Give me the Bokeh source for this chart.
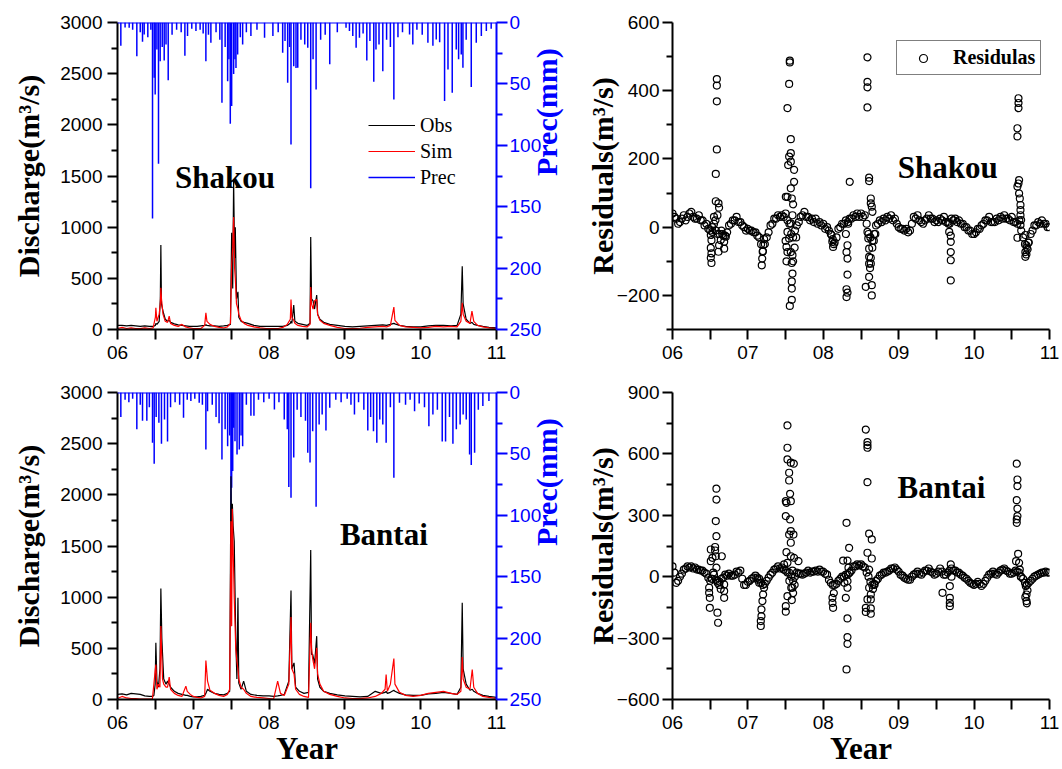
import math
from bokeh.plotting import figure
from bokeh.layouts import row, column
from bokeh.models import (Range1d, LinearAxis, FixedTicker, Legend, LegendItem,
                          Label, Span)
from bokeh.embed import file_html
from bokeh.resources import INLINE

# ---------------------------------------------------------------- data
YEAR_TICKS = [0, 1, 2, 3, 4, 5]
YEAR_LABELS = ["06", "07", "08", "09", "10", "11"]

# Shakou discharge: (years since 2006-01-01, observed, simulated) m3/s
SHAKOU_Q = [
    (0.00, 40, 10), (0.06, 40, 20), (0.12, 35, 10), (0.18, 40, 15), (0.24, 35, 10),
    (0.30, 30, 8), (0.36, 35, 15), (0.42, 30, 10), (0.47, 30, 15), (0.50, 40, 120),
    (0.506, 60, 212), (0.52, 50, 80), (0.55, 80, 150), (0.565, 300, 250), (0.572, 825, 407),
    (0.58, 250, 300), (0.60, 180, 150), (0.63, 100, 80), (0.66, 80, 70), (0.682, 90, 131),
    (0.70, 70, 60), (0.75, 55, 40), (0.80, 45, 30), (0.85, 40, 50), (0.90, 35, 25),
    (0.95, 30, 15), (1.00, 30, 10), (1.05, 30, 8), (1.10, 35, 10), (1.15, 40, 40),
    (1.166, 45, 163), (1.18, 40, 80), (1.22, 35, 50), (1.28, 35, 30), (1.34, 30, 20),
    (1.40, 35, 15), (1.45, 40, 25), (1.49, 50, 60), (1.506, 945, 635), (1.52, 400, 800),
    (1.532, 1460, 1098), (1.545, 700, 600), (1.554, 1000, 500), (1.57, 300, 250), (1.589, 368, 200),
    (1.60, 120, 150), (1.63, 80, 90), (1.67, 70, 60), (1.72, 60, 40), (1.80, 40, 25),
    (1.88, 30, 15), (1.96, 30, 10), (2.05, 30, 8), (2.12, 30, 10), (2.18, 30, 20),
    (2.24, 40, 50), (2.28, 60, 100), (2.289, 80, 293), (2.30, 60, 120), (2.325, 238, 90),
    (2.34, 80, 60), (2.38, 60, 40), (2.44, 50, 30), (2.50, 40, 25), (2.54, 60, 50),
    (2.549, 903, 414), (2.56, 300, 250), (2.58, 280, 200), (2.60, 200, 280), (2.628, 336, 293),
    (2.64, 150, 150), (2.67, 100, 90), (2.72, 70, 60), (2.80, 50, 40), (2.90, 40, 20),
    (3.00, 30, 10), (3.10, 25, 8), (3.20, 30, 12), (3.30, 35, 20), (3.40, 40, 25),
    (3.50, 45, 30), (3.55, 40, 25), (3.60, 50, 40), (3.646, 60, 219), (3.66, 55, 90),
    (3.72, 40, 40), (3.80, 30, 25), (3.90, 25, 20), (4.00, 25, 15), (4.10, 35, 20),
    (4.20, 40, 30), (4.30, 40, 25), (4.40, 35, 30), (4.48, 40, 25), (4.53, 150, 80),
    (4.548, 619, 261), (4.56, 250, 150), (4.60, 100, 80), (4.65, 60, 60), (4.676, 70, 180),
    (4.70, 50, 80), (4.75, 40, 40), (4.82, 30, 25), (4.90, 20, 15), (5.00, 15, 10),
]

# Bantai discharge: (years since 2006, observed, simulated) m3/s
BANTAI_Q = [
    (0.00, 50, 10), (0.06, 55, 30), (0.12, 45, 15), (0.18, 60, 10), (0.24, 55, 8),
    (0.30, 50, 5), (0.36, 35, 5), (0.42, 30, 5), (0.46, 30, 5), (0.48, 40, 150),
    (0.497, 150, 283), (0.506, 554, 342), (0.52, 180, 100), (0.54, 120, 150), (0.56, 300, 120),
    (0.572, 1085, 717), (0.585, 600, 400), (0.594, 450, 200), (0.61, 200, 150), (0.64, 150, 120),
    (0.66, 180, 120), (0.682, 150, 219), (0.70, 120, 100), (0.75, 80, 60), (0.80, 60, 40),
    (0.85, 50, 30), (0.902, 40, 131), (0.92, 40, 80), (0.96, 30, 50), (1.00, 25, 30),
    (1.05, 25, 20), (1.10, 30, 15), (1.15, 40, 30), (1.166, 60, 381), (1.188, 100, 180),
    (1.22, 80, 90), (1.28, 60, 60), (1.34, 50, 40), (1.40, 45, 30), (1.45, 60, 50),
    (1.48, 80, 100), (1.497, 2182, 1743), (1.506, 1500, 717), (1.515, 1912, 1864), (1.525, 1700, 1500),
    (1.54, 1547, 1000), (1.56, 600, 500), (1.575, 200, 375), (1.589, 994, 300), (1.60, 160, 200),
    (1.63, 100, 120), (1.664, 180, 100), (1.70, 80, 60), (1.76, 50, 30), (1.84, 40, 20),
    (1.92, 35, 15), (2.00, 35, 10), (2.06, 30, 5), (2.113, 35, 180), (2.15, 40, 60),
    (2.20, 50, 40), (2.26, 180, 150), (2.289, 1065, 805), (2.30, 300, 300), (2.329, 358, 250),
    (2.35, 120, 100), (2.40, 80, 50), (2.46, 60, 30), (2.52, 70, 20), (2.549, 1460, 749),
    (2.56, 440, 500), (2.575, 440, 400), (2.60, 350, 300), (2.628, 619, 505), (2.64, 200, 250),
    (2.67, 120, 150), (2.72, 80, 80), (2.80, 60, 50), (2.90, 45, 30), (3.00, 35, 15),
    (3.10, 30, 10), (3.20, 25, 8), (3.30, 30, 15), (3.40, 80, 30), (3.48, 60, 60),
    (3.53, 70, 100), (3.544, 80, 244), (3.56, 60, 80), (3.60, 70, 150), (3.646, 90, 401),
    (3.66, 80, 150), (3.72, 60, 70), (3.80, 45, 40), (3.90, 40, 30), (4.00, 40, 40),
    (4.10, 55, 60), (4.20, 60, 70), (4.30, 70, 80), (4.40, 60, 60), (4.48, 50, 50),
    (4.53, 120, 80), (4.548, 945, 414), (4.56, 300, 200), (4.60, 150, 120), (4.65, 90, 100),
    (4.68, 100, 293), (4.70, 80, 120), (4.75, 60, 60), (4.82, 40, 30), (4.90, 30, 20),
    (5.00, 20, 10),
]

# Daily precipitation events: (years since 2006, mm)
SHAKOU_PREC = [
    (0.044, 19), (0.10, 4), (0.154, 4.3), (0.20, 6), (0.255, 27.4), (0.30, 8), (0.33, 15.7),
    (0.352, 9.7), (0.40, 12), (0.44, 6), (0.462, 159.6), (0.484, 45), (0.497, 58.6), (0.52, 22),
    (0.541, 115), (0.563, 31.5), (0.59, 20), (0.616, 31), (0.64, 18), (0.669, 47), (0.72, 10),
    (0.78, 6), (0.84, 8), (0.889, 27), (0.924, 11), (0.98, 5), (1.035, 7), (1.09, 6), (1.13, 9),
    (1.166, 31.5), (1.20, 10), (1.232, 16.5), (1.30, 8), (1.35, 14), (1.378, 65.4), (1.42, 20),
    (1.453, 47.8), (1.47, 30), (1.488, 82.5), (1.506, 68), (1.532, 42), (1.55, 30), (1.563, 37),
    (1.585, 26), (1.62, 12), (1.651, 18), (1.70, 8), (1.76, 11), (1.84, 6), (1.94, 12.5),
    (2.05, 11), (2.12, 8), (2.179, 24.6), (2.21, 15), (2.245, 49), (2.27, 20), (2.289, 99.3),
    (2.325, 35.6), (2.355, 37), (2.378, 36.9), (2.42, 14), (2.47, 18), (2.51, 20.6), (2.549, 135),
    (2.58, 30), (2.62, 54.5), (2.68, 14), (2.74, 10), (2.80, 34), (2.90, 8), (3.015, 4.3),
    (3.06, 7), (3.104, 11), (3.148, 20.6), (3.192, 12.5), (3.24, 9), (3.289, 30.9), (3.33, 15),
    (3.381, 48.3), (3.41, 22), (3.45, 18), (3.50, 39.6), (3.55, 14), (3.60, 20), (3.646, 62.7),
    (3.70, 12), (3.76, 8), (3.853, 9.7), (3.896, 17.9), (3.95, 6), (4.02, 10), (4.095, 16.5),
    (4.161, 19), (4.205, 13.8), (4.25, 16), (4.315, 64), (4.36, 38.2), (4.416, 57.3), (4.469, 22),
    (4.50, 30), (4.535, 26), (4.557, 36.9), (4.60, 14), (4.667, 52.6), (4.733, 16.5), (4.80, 11),
    (4.866, 7), (4.93, 5),
]

BANTAI_PREC = [
    (0.044, 20), (0.10, 6), (0.15, 8), (0.20, 5), (0.255, 30), (0.30, 10), (0.33, 23),
    (0.387, 23), (0.42, 12), (0.462, 41), (0.484, 58), (0.51, 20), (0.546, 24.7), (0.58, 41.8),
    (0.62, 22), (0.66, 40), (0.70, 12), (0.76, 8), (0.82, 10), (0.871, 20.6), (0.92, 6),
    (0.968, 7), (1.02, 5), (1.078, 8.4), (1.12, 10), (1.166, 46.4), (1.188, 15.2), (1.25, 10),
    (1.30, 20), (1.34, 25), (1.378, 54.5), (1.42, 30), (1.453, 43.7), (1.48, 35), (1.497, 104.7),
    (1.506, 77.6), (1.52, 64), (1.532, 28.8), (1.55, 39.6), (1.577, 50.5), (1.607, 46.4),
    (1.63, 35), (1.651, 43.7), (1.70, 10), (1.76, 19), (1.80, 19), (1.86, 6), (1.93, 8),
    (2.00, 5), (2.07, 13.8), (2.13, 8), (2.20, 22), (2.24, 30), (2.26, 77), (2.289, 85.7),
    (2.325, 53), (2.37, 14), (2.42, 20), (2.48, 23), (2.51, 49), (2.54, 57), (2.575, 31.5),
    (2.62, 93), (2.66, 26), (2.70, 18), (2.75, 31), (2.80, 12.5), (2.88, 6), (2.95, 8),
    (3.03, 5), (3.08, 10), (3.126, 17.9), (3.18, 8), (3.25, 14), (3.302, 30.9), (3.34, 20),
    (3.377, 31.5), (3.421, 40.9), (3.46, 22), (3.50, 26), (3.544, 40.9), (3.60, 12),
    (3.646, 69.4), (3.72, 8.4), (3.80, 10), (3.86, 6), (3.919, 15.2), (3.98, 9), (4.05, 12),
    (4.108, 27.4), (4.161, 17.9), (4.22, 14), (4.284, 40), (4.328, 40), (4.38, 20),
    (4.425, 41.8), (4.47, 30), (4.52, 26), (4.56, 18), (4.601, 22), (4.645, 50.5),
    (4.667, 59), (4.711, 49), (4.76, 14), (4.82, 11), (4.90, 7),
]

# Residuals (obs - sim), m3/s : seasonal band read every 0.05 yr (upper edge)
RES_BAND_T = [
    0.00, 0.05, 0.10, 0.15, 0.20, 0.25, 0.30, 0.35, 0.40, 0.45,
    0.50, 0.55, 0.60, 0.65, 0.70, 0.75, 0.80, 0.85, 0.90, 0.95,
    1.00, 1.05, 1.10, 1.15, 1.20, 1.25, 1.30, 1.35, 1.40, 1.45,
    1.50, 1.55, 1.60, 1.65, 1.70, 1.75, 1.80, 1.85, 1.90, 1.95,
    2.00, 2.05, 2.10, 2.15, 2.20, 2.25, 2.30, 2.35, 2.40, 2.45,
    2.50, 2.55, 2.60, 2.65, 2.70, 2.75, 2.80, 2.85, 2.90, 2.95,
    3.00, 3.05, 3.10, 3.15, 3.20, 3.25, 3.30, 3.35, 3.40, 3.45,
    3.50, 3.55, 3.60, 3.65, 3.70, 3.75, 3.80, 3.85, 3.90, 3.95,
    4.00, 4.05, 4.10, 4.15, 4.20, 4.25, 4.30, 4.35, 4.40, 4.45,
    4.50, 4.55, 4.60, 4.65, 4.70, 4.75, 4.80, 4.85, 4.90, 4.95,
    5.00,
]
# band read half-way between the samples above (lower edge)
RES_BAND_T2 = [
    0.025, 0.075, 0.125, 0.175, 0.225, 0.275, 0.325, 0.375, 0.425, 0.475,
    0.525, 0.575, 0.625, 0.675, 0.725, 0.775, 0.825, 0.875, 0.925, 0.975,
    1.025, 1.075, 1.125, 1.175, 1.225, 1.275, 1.325, 1.375, 1.425, 1.475,
    1.525, 1.575, 1.625, 1.675, 1.725, 1.775, 1.825, 1.875, 1.925, 1.975,
    2.025, 2.075, 2.125, 2.175, 2.225, 2.275, 2.325, 2.375, 2.425, 2.475,
    2.525, 2.575, 2.625, 2.675, 2.725, 2.775, 2.825, 2.875, 2.925, 2.975,
    3.025, 3.075, 3.125, 3.175, 3.225, 3.275, 3.325, 3.375, 3.425, 3.475,
    3.525, 3.575, 3.625, 3.675, 3.725, 3.775, 3.825, 3.875, 3.925, 3.975,
    4.025, 4.075, 4.125, 4.175, 4.225, 4.275, 4.325, 4.375, 4.425, 4.475,
    4.525, 4.575, 4.625, 4.675, 4.725, 4.775, 4.825, 4.875, 4.925, 4.975,
]
SHAKOU_RES_BAND = [
    40, 25, 15, 35, 30, 45, 25, 35, 20, 10,
    -10, 10, -20, -10, -25, 5, 20, 30, 15, 0,
    -5, -10, -15, -30, -70, -30, 5, 25, 35, 35,
    40, 10, -30, 5, 30, 45, 30, 25, 25, 15,
    10, 0, -20, -45, -5, 10, 20, 25, 35, 40,
    40, 35, -20, -40, 5, 20, 25, 30, 35, 25,
    0, -5, -5, -10, 30, 35, 15, 20, 35, 25,
    20, 25, 30, 15, 25, 25, 20, 10, 0, -10,
    -20, -5, 5, 20, 30, 15, 25, 30, 35, 25,
    30, 15, 20, -30, -60, -20, 5, 15, 20, 10,
    0,
]
SHAKOU_RES_BAND2 = [
    30, 10, 25, 20, 40, 30, 25, 20, 5, -5,
    0, -10, -20, -25, -15, 10, 20, 15, 5, -10,
    -10, -15, -25, -50, -50, -15, 10, 25, 30, 30,
    20, -20, -10, 15, 35, 30, 20, 15, 10, 5,
    -5, -10, -35, -30, 0, 10, 15, 25, 30, 30,
    30, 10, -30, -20, 10, 15, 20, 25, 20, 10,
    -5, -10, -15, 10, 25, 20, 10, 25, 25, 15,
    15, 20, 15, 10, 20, 15, 10, 0, -10, -20,
    -15, -5, 10, 20, 15, 15, 20, 25, 25, 20,
    15, 10, -10, -50, -45, -10, 5, 10, 10, 0,
]
BANTAI_RES_BAND = [
    50, -30, 0, 35, 50, 50, 45, 35, 30, 15,
    -20, 10, -30, -10, 10, 15, 5, 25, 30, -40,
    -25, -10, 5, -10, -40, -20, 10, 35, 50, 45,
    30, 20, -20, 20, 15, 15, 30, 25, 30, 35,
    25, 10, -30, -40, -20, 0, 10, 20, 50, 60,
    60, 45, 0, -40, -20, 5, 20, 25, 40, 45,
    25, 5, -10, -15, 10, 25, 10, 30, 40, 20,
    15, 40, 10, 20, 40, 30, 20, 5, -10, -30,
    -40, -25, -45, -20, 10, 25, 10, 30, 40, 25,
    15, 30, 20, -10, -40, -20, 0, 10, 20, 25,
    20,
]
BANTAI_RES_BAND2 = [
    20, -20, 15, 40, 45, 40, 35, 30, 20, -5,
    -10, -15, -25, -5, 5, 5, 10, 20, -10, -40,
    -20, -5, -5, -30, -35, -5, 20, 40, 40, 35,
    20, 0, 0, 15, 10, 20, 20, 25, 25, 25,
    15, -15, -40, -35, -10, 0, 10, 30, 50, 55,
    50, 20, -25, -35, -10, 10, 20, 30, 40, 35,
    10, -5, -15, 0, 15, 15, 20, 30, 25, 10,
    25, 25, 10, 30, 30, 20, 10, -5, -20, -35,
    -35, -35, -35, -5, 15, 15, 20, 35, 30, 15,
    20, 25, 0, -30, -30, -10, 5, 15, 20, 20,
]
# Residuals during flood events: (years since 2006, residual)
SHAKOU_RES_EVENTS = [
    (0.588, 434), (0.588, 415), (0.588, 369), (0.588, 228), (0.574, 156), (0.574, 76),
    (0.61, 70), (0.618, 57), (0.596, 35), (0.517, -77), (0.508, -90), (0.517, -105),
    (0.508, -61), (0.517, -38), (0.508, -23), (0.53, -14), (0.61, -72), (0.618, -53),
    (0.64, -38), (0.685, -63), (0.685, -43), (0.707, -28), (0.66, -20), (0.55, 30), (0.57, 20),
    (1.556, 488), (1.556, 483), (1.547, 420), (1.525, 349), (1.569, 258), (1.569, 217),
    (1.569, 192), (1.547, 207), (1.534, 182), (1.613, 168), (1.613, 133), (1.569, 114),
    (1.582, 84), (1.60, 67), (1.525, 89), (1.503, 89), (1.591, 35), (1.569, 11), (1.525, -14),
    (1.547, -33), (1.512, -58), (1.525, -73), (1.569, -73), (1.591, -82), (1.512, -100),
    (1.582, -105), (1.591, -136), (1.582, -159), (1.582, -180), (1.582, -213), (1.556, -231),
    (1.60, -100), (1.62, -60), (1.64, -30), (1.50, -40),
    (1.184, -112), (1.19, -92), (1.196, -72), (1.205, -52), (1.215, -35),
    (2.351, 133), (2.321, -53), (2.308, -73), (2.321, -92), (2.321, -139), (2.308, -182),
    (2.321, -192), (2.308, -205), (2.11, -23), (2.12, -43), (2.13, -58), (2.14, -50),
    (2.30, -20), (2.33, 10),
    (2.586, 498), (2.586, 426), (2.586, 410), (2.586, 351), (2.608, 145), (2.608, 135),
    (2.63, 84), (2.63, 70), (2.643, 60), (2.652, 45), (2.586, -14), (2.597, -33),
    (2.608, -63), (2.608, -87), (2.63, -107), (2.608, -107), (2.608, -146), (2.563, -175),
    (2.643, -170), (2.643, -200), (2.62, -120), (2.63, -90), (2.65, -60), (2.67, -40), (2.69, -20),
    (3.691, -156), (3.691, -73), (3.691, -97), (3.691, -43), (3.67, -14), (3.691, -25), (3.66, 10),
    (4.589, 378), (4.589, 364), (4.589, 349), (4.575, 290), (4.575, 266), (4.597, 138),
    (4.589, 128), (4.575, 119), (4.597, 99), (4.606, 84), (4.615, 65), (4.615, 50),
    (4.615, 35), (4.624, 21), (4.615, 6), (4.575, -31), (4.68, -23), (4.694, -53),
    (4.68, -73), (4.68, -87), (4.694, -80), (4.71, -65), (4.72, -45),
]
BANTAI_RES_EVENTS = [
    (0.583, 430), (0.583, 377), (0.574, 272), (0.583, 198), (0.565, 145), (0.565, 128),
    (0.508, 133), (0.508, 76), (0.53, 92), (0.574, 100), (0.654, 100), (0.583, 44),
    (0.486, -54), (0.486, -79), (0.495, -103), (0.495, -152), (0.596, -176), (0.605, -225),
    (0.685, -38), (0.685, -70), (0.685, -103), (0.60, -20), (0.62, -40), (0.64, -60),
    (0.54, 20), (0.52, -10),
    (1.171, -241), (1.171, -217), (1.18, -193), (1.18, -160), (1.193, -119), (1.202, -87),
    (1.215, -54), (1.15, -30), (1.13, -15),
    (1.525, 739), (1.525, 630), (1.525, 573), (1.569, 557), (1.609, 552), (1.547, 508),
    (1.547, 470), (1.56, 405), (1.569, 369), (1.503, 369), (1.512, 361), (1.503, 296),
    (1.56, 280), (1.569, 223), (1.547, 206), (1.604, 206), (1.569, 166), (1.512, 120),
    (1.569, 100), (1.613, 92), (1.671, 76), (1.525, 68), (1.48, 60), (1.591, 30),
    (1.575, -54), (1.582, -114), (1.525, -95), (1.591, -54), (1.503, -144), (1.503, -171),
    (1.55, -20), (1.60, -80), (1.62, -40),
    (2.308, 263), (2.343, 141), (2.321, 79), (2.263, 79), (2.334, 44), (2.321, -22),
    (2.321, -54), (2.299, -103), (2.321, -204), (2.321, -295), (2.321, -328), (2.308, -453),
    (2.122, -103), (2.122, -128), (2.13, -152), (2.14, -80), (2.28, -30), (2.35, 20),
    (2.564, 719), (2.586, 658), (2.586, 643), (2.586, 630), (2.586, 462), (2.608, 210),
    (2.643, 182), (2.586, 117), (2.643, 89), (2.608, 35), (2.608, -54), (2.63, -87),
    (2.63, -111), (2.586, -111), (2.564, -152), (2.564, -172), (2.63, -155), (2.63, -181),
    (2.66, -60), (2.68, -40),
    (3.581, -79), (3.678, -46), (3.678, -103), (3.678, -128), (3.678, -144), (3.691, 60), (3.70, 0),
    (4.566, 552), (4.575, 475), (4.575, 443), (4.566, 374), (4.575, 333), (4.575, 296),
    (4.566, 280), (4.566, 263), (4.584, 112), (4.597, 68), (4.557, 76), (4.606, 35),
    (4.686, -46), (4.695, -87), (4.695, -119), (4.708, -67), (4.68, -100), (4.70, -130), (4.62, 0),
]

# ---------------------------------------------------------------- style
SANS = "Liberation Sans"
SERIF = "Liberation Serif"
FW_L, FW_R, FH = 379, 377, 307


def style_axis(ax, color="black", tick_out=10, minor_out=6):
    ax.axis_line_color = color
    ax.axis_line_width = 2
    ax.major_tick_line_color = color
    ax.major_tick_line_width = 2
    ax.minor_tick_line_color = color
    ax.minor_tick_line_width = 2
    ax.major_tick_in = 0
    ax.minor_tick_in = 0
    ax.major_tick_out = tick_out
    ax.minor_tick_out = minor_out
    ax.major_label_text_font = SANS
    ax.major_label_text_font_size = "19px"
    ax.major_label_text_color = color
    ax.axis_label_text_font = SERIF
    ax.axis_label_text_font_style = "bold"
    ax.axis_label_text_font_size = "30px"
    ax.axis_label_text_color = color


def make_fig(fw, ml, mr, mt, mb, y0, y1, yticks, yminor, ylabel, ylabel_standoff, xtitle):
    p = figure(frame_width=fw, frame_height=FH,
               x_range=Range1d(0, 5), y_range=Range1d(y0, y1),
               min_border_left=ml, min_border_right=mr,
               min_border_top=mt, min_border_bottom=mb,
               output_backend="svg", toolbar_location=None,
               outline_line_color=None, background_fill_color="white",
               border_fill_color="white")
    p.grid.visible = False
    xa = p.xaxis[0]
    xa.ticker = FixedTicker(ticks=YEAR_TICKS, minor_ticks=[0.5, 1.5, 2.5, 3.5, 4.5])
    xa.major_label_overrides = {t: lab for t, lab in zip(YEAR_TICKS, YEAR_LABELS)}
    style_axis(xa, tick_out=10, minor_out=10)
    xa.major_label_standoff = 6
    if xtitle:
        xa.axis_label = xtitle
        xa.axis_label_text_font_size = "31px"
        xa.axis_label_standoff = -1
    ya = p.yaxis[0]
    ya.ticker = FixedTicker(ticks=yticks, minor_ticks=yminor)
    style_axis(ya, tick_out=10, minor_out=6)
    ya.axis_label = ylabel
    ya.axis_label_standoff = ylabel_standoff
    return p


def add_name(p, name, xy):
    p.add_layout(Label(x=xy[0], y=xy[1], text=name, text_font=SERIF,
                       text_font_style="bold", text_font_size="31px",
                       text_color="black", text_align="center",
                       text_baseline="alphabetic"))


def discharge_panel(data, prec, mt, mb, xtitle, name, name_xy, with_legend):
    p = make_fig(FW_L, 117, 20, mt, mb, 0, 3000,
                 [0, 500, 1000, 1500, 2000, 2500, 3000],
                 [250, 750, 1250, 1750, 2250, 2750],
                 "Discharge(m\u00b3/s)", 12, xtitle)
    p.extra_y_ranges = {"prec": Range1d(250, 0)}
    pt, pv = zip(*prec)
    r_prec = p.segment(x0=list(pt), y0=[0] * len(pt), x1=list(pt), y1=list(pv),
                       y_range_name="prec", line_color="#0000FF", line_width=1.5)
    p.add_layout(Span(location=0, dimension="width", y_range_name="prec",
                      line_color="#0000FF", line_width=2))
    t, obs, sim = zip(*data)
    r_obs = p.line(list(t), list(obs), line_color="black", line_width=1.2)
    r_sim = p.line(list(t), list(sim), line_color="#FF0000", line_width=1.2)
    ra = LinearAxis(y_range_name="prec", axis_label="Prec(mm)",
                    ticker=FixedTicker(ticks=[0, 50, 100, 150, 200, 250],
                                       minor_ticks=[25, 75, 125, 175, 225]))
    style_axis(ra, color="#0000FF", tick_out=11, minor_out=6)
    ra.major_label_standoff = 2
    ra.axis_label_standoff = 2
    if "axis_label_orientation" in ra.properties():
        ra.axis_label_orientation = math.pi / 2
    p.add_layout(ra, "right")
    add_name(p, name, name_xy)
    if with_legend:
        leg = Legend(items=[LegendItem(label="Obs", renderers=[r_obs]),
                            LegendItem(label="Sim", renderers=[r_sim]),
                            LegendItem(label="Prec", renderers=[r_prec])],
                     location=(251, 139), border_line_color=None,
                     background_fill_alpha=0, padding=0, margin=0, spacing=0,
                     glyph_width=47, glyph_height=26, label_height=26,
                     label_standoff=5, label_text_font=SERIF,
                     label_text_color="black", label_text_font_size="20px")
        p.add_layout(leg)
    return p


def residual_panel(band, band2, events, mt, mb, y0, y1, yticks, yminor, xtitle,
                   name, name_xy, with_legend):
    p = make_fig(FW_R, 20, 13, mt, mb, y0, y1, yticks, yminor,
                 "Residuals(m\u00b3/s)", -5, xtitle)
    p.yaxis[0].major_label_standoff = 3
    et, ev = zip(*events)
    xs = RES_BAND_T + RES_BAND_T2 + list(et)
    ys = band + band2 + list(ev)
    sc = p.scatter(xs, ys, marker="circle", size=7, fill_color=None,
                   line_color="black", line_width=1.2)
    add_name(p, name, name_xy)
    if with_legend:
        leg = Legend(items=[LegendItem(label="Residulas", renderers=[sc])],
                     location=(224, 254), border_line_color="black",
                     border_line_width=1, background_fill_color="white",
                     background_fill_alpha=1, padding=5, margin=0,
                     glyph_width=42, glyph_height=20, label_height=20,
                     label_standoff=9, label_text_font=SERIF,
                     label_text_color="black",
                     label_text_font_style="bold", label_text_font_size="20px")
        p.add_layout(leg)
    return p


p1 = discharge_panel(SHAKOU_Q, SHAKOU_PREC, 22, 36, None, "Shakou", (1.417, 1489), True)
p2 = residual_panel(SHAKOU_RES_BAND, SHAKOU_RES_BAND2, SHAKOU_RES_EVENTS, 22, 36, -300, 600,
                    [-200, 0, 200, 400, 600], [-300, -100, 100, 300, 500],
                    None, "Shakou", (3.651, 175), True)
p3 = discharge_panel(BANTAI_Q, BANTAI_PREC, 27, 70, "Year", "Bantai", (3.514, 1612), False)
p4 = residual_panel(BANTAI_RES_BAND, BANTAI_RES_BAND2, BANTAI_RES_EVENTS, 27, 70, -600, 900,
                    [-600, -300, 0, 300, 600, 900], [-450, -150, 150, 450, 750],
                    "Year", "Bantai", (3.568, 438), False)

layout = column(row(p1, p2), row(p3, p4))
open("out.html", "w").write(file_html(layout, INLINE))
